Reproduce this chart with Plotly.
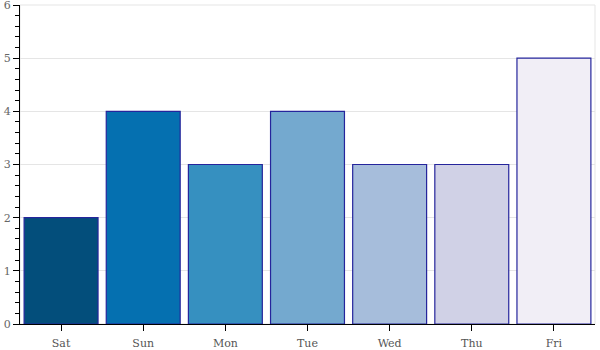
import plotly.graph_objects as go

days = ["Sat", "Sun", "Mon", "Tue", "Wed", "Thu", "Fri"]
counts = [2, 4, 3, 4, 3, 3, 5]
colors = ["#034e7b", "#0570b0", "#3690c0", "#74a9cf", "#a6bddb", "#d0d1e6", "#f1eef6"]

fig = go.Figure(go.Bar(
    x=days, y=counts, width=0.9,
    marker=dict(color=colors, line=dict(color="#25259c", width=1.2)),
))

fig.update_layout(
    width=600, height=350,
    margin=dict(l=20, r=5, t=5, b=26, autoexpand=False),
    paper_bgcolor="white", plot_bgcolor="white",
    showlegend=False,
    bargap=0.1,
    shapes=[dict(type="rect", xref="paper", yref="paper", x0=0, x1=1, y0=0, y1=1,
                 line=dict(color="#e5e5e5", width=1), layer="below")],
)
fig.update_xaxes(
    showgrid=False, showline=True, linecolor="black", linewidth=1,
    ticks="outside", ticklen=6, tickcolor="black", automargin=False,
    ticklabelstandoff=3,
    tickfont=dict(family="DejaVu Serif", size=11, color="#555555"),
    range=[-0.5, 6.5],
)
fig.update_yaxes(
    range=[0, 6], dtick=1, showgrid=True, gridcolor="#e5e5e5", zeroline=False,
    showline=True, linecolor="black", linewidth=1, automargin=False,
    ticks="outside", ticklen=6, tickcolor="black",
    ticklabeloverflow="allow",
    tickfont=dict(family="DejaVu Serif", size=11, color="#666666"),
    minor=dict(ticks="outside", ticklen=4, tickcolor="black", nticks=5, showgrid=False),
)

fig.write_html("out.html")
